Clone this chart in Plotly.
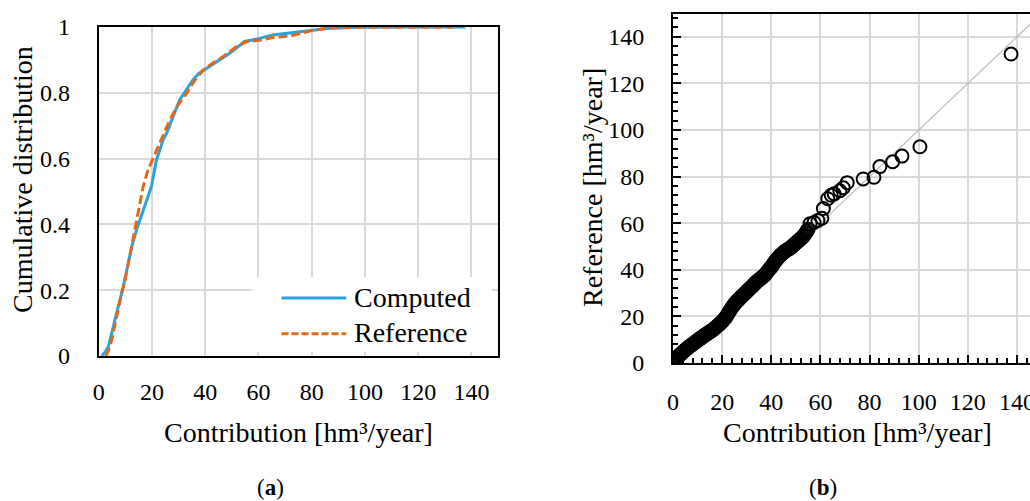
import plotly.graph_objects as go

# ---------------- data ----------------
# Panel (a): cumulative distributions
comp_x = [1.1, 2.2, 3.6, 5.5, 7.3, 9.2, 10.8, 12.4, 14.2, 16.5, 18.0, 19.8, 21.7, 24.2, 25.5, 28.0,
          30.4, 33.0, 35.4, 37.5, 39.8, 44.2, 49.2, 54.8, 60.4, 65.4, 71.6, 78.0, 86.6, 99.0, 115.0, 137.8]
comp_cdf = [0.0, 0.01, 0.028, 0.089, 0.15, 0.21, 0.27, 0.332, 0.383, 0.44, 0.474, 0.515, 0.596, 0.657, 0.677, 0.73,
            0.778, 0.81, 0.839, 0.858, 0.870, 0.895, 0.92, 0.956, 0.965, 0.976, 0.983, 0.988, 0.996, 0.999, 1.0, 1.0]

ref_x = [2.7, 3.8, 4.9, 6.7, 8.6, 9.9, 12.4, 14.2, 16.7, 18.5, 20.4, 21.1, 23.6, 26.7, 29.8, 33.0,
         35.4, 39.2, 41.7, 46.7, 51.7, 55.4, 60.4, 65.4, 71.6, 74.2, 80.4, 87.9, 100.0, 133.0]
ref_cdf = [0.0, 0.02, 0.049, 0.12, 0.19, 0.23, 0.332, 0.413, 0.515, 0.565, 0.6, 0.612, 0.66, 0.717, 0.763, 0.798,
           0.83, 0.869, 0.884, 0.91, 0.94, 0.955, 0.96, 0.968, 0.972, 0.978, 0.99, 0.998, 1.0, 1.0]

# Panel (b): computed vs reference (quantile pairs)
qq_x = [0.0, 0.5, 1.0, 1.5, 2.0, 2.5, 3.0, 3.5, 4.0, 4.5, 5.0, 5.5, 6.0, 6.5, 7.0, 7.5, 8.0, 8.5, 9.0, 9.5,
        10.0, 10.5, 11.0, 11.5, 12.0, 12.5, 13.0, 13.5, 14.0, 14.5, 15.0, 15.5, 16.0, 16.5, 17.0, 17.5, 18.0, 18.5, 19.0, 19.5,
        20.0, 20.5, 21.0, 21.5, 22.0, 22.5, 23.0, 23.5, 24.0, 24.5, 25.0, 25.5, 26.0, 26.5, 27.0, 27.5, 28.0, 28.5, 29.0, 29.5,
        30.0, 30.5, 31.0, 31.5, 32.0, 32.5, 33.0, 33.5, 34.0, 34.5, 35.0, 35.5, 36.0, 36.5, 37.0, 37.5, 38.0, 38.5, 39.0, 39.5,
        40.0, 40.5, 41.0, 41.5, 42.0, 42.5, 43.0, 43.5, 44.0, 44.5, 45.0, 45.5, 46.0, 46.5, 47.0, 47.5, 48.0, 48.5, 49.0, 49.5,
        50.0, 50.5, 51.0, 51.5, 52.0, 52.5, 53.0, 53.5, 54.0, 54.5, 55.0,
        55.8, 57.4, 59.0, 60.6, 61.2, 63.0, 64.4, 65.6, 67.9, 69.3, 70.9, 77.4, 81.8, 84.2, 89.4, 93.2, 100.5, 137.6]
qq_y = [0.0, 0.8, 1.5, 2.1, 2.6, 3.2, 3.7, 4.2, 4.6, 5.2, 5.6, 6.1, 6.5, 6.9, 7.3, 7.7, 8.1, 8.5, 8.9, 9.3,
        9.7, 10.1, 10.5, 10.8, 11.2, 11.6, 12.0, 12.3, 12.7, 13.0, 13.4, 13.7, 14.1, 14.5, 14.9, 15.4, 15.8, 16.3, 16.8, 17.3,
        17.8, 18.4, 19.0, 19.7, 20.5, 21.3, 22.2, 23.0, 23.8, 24.5, 25.3, 25.9, 26.5, 27.0, 27.5, 28.1, 28.6, 29.1, 29.6, 30.1,
        30.6, 31.2, 31.7, 32.2, 32.7, 33.2, 33.8, 34.3, 34.8, 35.3, 35.7, 36.1, 36.5, 37.0, 37.4, 37.9, 38.6, 39.3, 40.0, 40.6,
        41.1, 41.9, 42.8, 43.5, 44.2, 44.8, 45.4, 46.0, 46.5, 47.0, 47.4, 47.9, 48.3, 48.6, 48.9, 49.2, 49.6, 50.1, 50.5, 51.0,
        51.5, 52.0, 52.4, 52.8, 53.3, 53.8, 54.4, 55.0, 55.8, 56.6, 57.4,
        59.8, 60.3, 61.2, 62.1, 66.3, 70.5, 72.0, 72.6, 73.9, 75.2, 77.4, 79.0, 79.7, 84.3, 86.4, 88.8, 92.8, 132.6]

diag = [0, 150]

x_ticks = [0, 20, 40, 60, 80, 100, 120, 140]
cdf_ticks = [0, 0.2, 0.4, 0.6, 0.8, 1]

BLUE = "#29A3DD"
ORANGE = "#E2691B"
FONT = "Liberation Serif"
W, H = 1030, 501

def px(xp):
    return xp / W

def py(yp):
    return 1 - yp / H

fig = go.Figure()

fig.add_trace(go.Scatter(x=comp_x, y=comp_cdf, mode="lines", name="Computed",
                         line=dict(color=BLUE, width=3), xaxis="x", yaxis="y", showlegend=False))
fig.add_trace(go.Scatter(x=ref_x, y=ref_cdf, mode="lines", name="Reference",
                         line=dict(color=ORANGE, width=3, dash="9px,4px"), xaxis="x", yaxis="y", showlegend=False))

fig.add_trace(go.Scatter(x=diag, y=diag, mode="lines", line=dict(color="#BFBFBF", width=1.3),
                         xaxis="x2", yaxis="y2", showlegend=False, hoverinfo="skip"))
fig.add_trace(go.Scatter(x=qq_x, y=qq_y, mode="markers",
                         marker=dict(symbol="circle", size=13, color="rgba(0,0,0,0)",
                                     line=dict(color="black", width=2)),
                         xaxis="x2", yaxis="y2", showlegend=False))

tickfont = dict(family=FONT, size=24, color="black")
grid = dict(showgrid=True, gridcolor="#D9D9D9", gridwidth=1.5, zeroline=False, automargin=False,
            ticklabeloverflow="allow")

fig.update_layout(
    width=W, height=H,
    margin=dict(l=0, r=0, t=0, b=0, autoexpand=False),
    paper_bgcolor="white", plot_bgcolor="white",
    font=dict(family=FONT, color="black"),
    showlegend=False,
    xaxis=dict(domain=[px(98.7), px(498)], range=[0, 150], tickvals=x_ticks, ticks="",
               showline=True, linecolor="black", linewidth=2, mirror=True,
               tickfont=tickfont, ticklabelstandoff=13, anchor="y", **grid),
    yaxis=dict(domain=[py(356), py(27)], range=[0, 1], tickvals=cdf_ticks, ticks="",
               showline=True, linecolor="black", linewidth=2, mirror=True,
               tickfont=tickfont, ticklabelstandoff=22, anchor="x", **grid),
    xaxis2=dict(domain=[px(673), 1.0], range=[0, 145.3], tickvals=x_ticks,
                ticks="inside", ticklen=8, tickwidth=2, tickcolor="black",
                minor=dict(ticks="inside", ticklen=5, tickwidth=1.5, tickcolor="black", dtick=4, tick0=0, showgrid=False),
                showline=True, linecolor="black", linewidth=2, mirror=True,
                tickfont=tickfont, ticklabelstandoff=16, anchor="y2", **grid),
    yaxis2=dict(domain=[py(363), py(13.5)], range=[0, 150], tickvals=x_ticks,
                ticks="inside", ticklen=8, tickwidth=2, tickcolor="black",
                minor=dict(ticks="inside", ticklen=5, tickwidth=1.5, tickcolor="black", dtick=4, tick0=0, showgrid=False),
                showline=True, linecolor="black", linewidth=2, mirror=False,
                tickfont=tickfont, ticklabelstandoff=22, anchor="x2", **grid),
)

# legend (panel a), drawn inside the plot area
fig.add_shape(type="rect", xref="x", yref="y", x0=57.8, x1=147.7, y0=0.012, y1=0.24,
              fillcolor="white", line=dict(width=0), layer="above")
fig.add_shape(type="line", xref="x", yref="y", x0=68.7, x1=93.0, y0=0.176, y1=0.176,
              line=dict(color=BLUE, width=3), layer="above")
fig.add_shape(type="line", xref="x", yref="y", x0=68.7, x1=93.0, y0=0.068, y1=0.068,
              line=dict(color=ORANGE, width=3, dash="7px,3px"), layer="above")

titlefont = dict(family=FONT, size=28, color="black")
legfont = dict(family=FONT, size=28, color="black")
ann = [
    dict(text="Computed", x=95.0, y=0.179, xref="x", yref="y", xanchor="left", yanchor="middle", font=legfont),
    dict(text="Reference", x=95.0, y=0.070, xref="x", yref="y", xanchor="left", yanchor="middle", font=legfont),
    dict(text="Contribution [hm³/year]", x=px(298), y=py(432), xref="paper", yref="paper",
         xanchor="center", yanchor="middle", font=titlefont),
    dict(text="Contribution [hm³/year]", x=px(857), y=py(432), xref="paper", yref="paper",
         xanchor="center", yanchor="middle", font=titlefont),
    dict(text="Cumulative distribution", x=px(23), y=py(180), xref="paper", yref="paper", textangle=-90,
         xanchor="center", yanchor="middle", font=titlefont),
    dict(text="Reference [hm³/year]", x=px(593), y=py(188), xref="paper", yref="paper", textangle=-90,
         xanchor="center", yanchor="middle", font=titlefont),
    dict(text="(<b>a</b>)", x=px(270), y=py(487), xref="paper", yref="paper",
         xanchor="center", yanchor="middle", font=dict(family=FONT, size=23, color="black")),
    dict(text="(<b>b</b>)", x=px(823), y=py(487), xref="paper", yref="paper",
         xanchor="center", yanchor="middle", font=dict(family=FONT, size=23, color="black")),
]
for a in ann:
    fig.add_annotation(showarrow=False, **a)

fig.write_html("out.html")
